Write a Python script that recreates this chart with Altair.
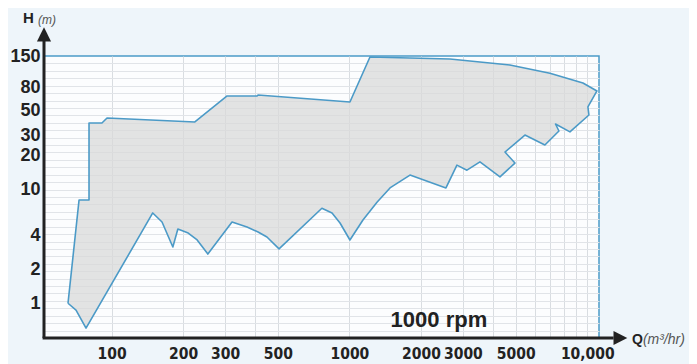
import altair as alt
import pandas as pd

# Outline of the operating envelope (Q in m3/hr, H in m), clockwise from the lower-left corner
q_outline = [65.6, 73.0, 80.4, 80.4, 91.1, 95.7, 224, 306, 409, 413, 1005, 1220, 2646, 4728, 6966, 9587, 10980,
             10060, 10160, 8453, 7350, 7600, 6634, 5468, 4507, 4964, 4294, 3538, 3120, 2831, 2546, 1797, 1481,
             1306, 1140, 1005, 913, 845, 766, 506, 450, 413, 371, 321, 254, 229, 210, 190, 181, 163, 149,
             78.1, 70.9, 65.6]
h_outline = [1.01, 8.15, 8.15, 38.7, 38.7, 42.8, 39.5, 66.8, 66.8, 68.2, 59.2, 147, 141, 125, 106, 87, 74,
             53.5, 45.5, 32.3, 37.9, 32.9, 24.8, 30.3, 21.5, 17.2, 13.0, 17.6, 14.9, 16.5, 10.4, 13.5, 10.4,
             7.8, 5.44, 3.63, 5.12, 6.27, 6.9, 3.03, 3.86, 4.27, 4.72, 5.22, 2.73, 3.63, 4.18, 4.53, 3.15, 5.22, 6.27,
             0.61, 0.88, 1.01]

x_label_values = [100, 200, 300, 500, 1000, 2000, 3000, 5000, 10000]
x_grid_values = [100, 200, 300, 400, 500, 1000, 2000, 3000, 4000, 5000, 6000, 7000, 8000, 9000, 10000]
y_label_values = [1, 2, 4, 10, 20, 30, 50, 80, 150]
y_stripe_values = [round(0.5 * 10 ** (k * 2.4771 / 38), 4) for k in range(1, 38)]

X_DOMAIN = [52, 11200]
Y_DOMAIN = [0.5, 150]

xs = alt.Scale(type="log", domain=X_DOMAIN, nice=False)
ys = alt.Scale(type="log", domain=Y_DOMAIN, nice=False)

df = pd.DataFrame({"Q": q_outline, "H": h_outline, "i": list(range(len(q_outline)))})
one = pd.DataFrame({"a": [0]})

GRID = "#d9dde1"
INK = "#222222"
BLUE = "#4b9ac7"
SANS = "Liberation Sans, Arial, sans-serif"
NARROW = "Liberation Sans Narrow, DejaVu Sans Condensed, Liberation Sans, sans-serif"


def px(v):
    return alt.X(datum=v, scale=xs, axis=None)


def py(v):
    return alt.Y(datum=v, scale=ys, axis=None)


grid_layer = alt.Chart(df).mark_line(opacity=0).encode(
    x=alt.X("Q:Q", scale=xs, axis=alt.Axis(values=x_grid_values, grid=True, labels=False, ticks=False,
                                           domain=False, title=None, orient="top", gridColor=GRID, gridWidth=1)),
    y=alt.Y("H:Q", scale=ys, axis=alt.Axis(values=y_stripe_values, grid=True, labels=False, ticks=False,
                                           domain=False, title=None, orient="right", gridColor="#e1e4e8", gridWidth=1)),
)

label_expr = ("datum.value == 10000 ? '10,000' : (indexof([100,200,300,500,1000,2000,3000,5000], datum.value) >= 0 "
              "? '' + datum.value : '')")

poly = alt.Chart(df).mark_line(fill="#d8d8d8", fillOpacity=0.72, stroke=BLUE, strokeWidth=1.6,
                               strokeJoin="round").encode(
    x=alt.X("Q:Q", scale=xs, axis=alt.Axis(values=x_label_values, labelExpr=label_expr, grid=False, ticks=False,
                                           domain=False, title=None, orient="bottom", labelFont=NARROW,
                                           labelFontWeight="bold", labelFontSize=15.5, labelColor=INK, labelPadding=8,
                                           labelFlush=False, labelOverlap=False)),
    y=alt.Y("H:Q", scale=ys, axis=alt.Axis(values=y_label_values, grid=False, ticks=False, domain=False, title=None,
                                           orient="left", labelFont=SANS, labelFontWeight="bold",
                                           labelFontSize=18, labelColor=INK, labelPadding=4, labelFlush=False,
                                           labelOverlap=False)),
    order="i:Q",
)

v_rule = alt.Chart(one).mark_rule(color=INK, strokeWidth=3).encode(x=px(52), y=py(0.5), y2=alt.datum(205))
h_rule = alt.Chart(one).mark_rule(color=INK, strokeWidth=3).encode(x=px(51.3), x2=alt.datum(12900), y=py(0.5))

up_arrow = alt.Chart(one).mark_point(shape="M0,-1L1,1L-1,1Z", size=200, filled=True, color=INK, opacity=1).encode(
    x=px(52), y=py(232))
right_arrow = alt.Chart(one).mark_point(shape="M-1,-1L1,0L-1,1Z", size=190, filled=True, color=INK,
                                        opacity=1).encode(x=px(13780), y=py(0.5))

rpm_text = alt.Chart(one).mark_text(text="1000 rpm", font=SANS, fontWeight="bold", fontSize=22,
                                    color=INK, align="center", baseline="alphabetic").encode(x=px(2378), y=py(0.6246))

h_text = alt.Chart(one).mark_text(text="H", font=SANS, fontWeight="bold", fontSize=15,
                                  color=INK, align="left", baseline="alphabetic").encode(x=px(42.4), y=py(292))
h_unit = alt.Chart(one).mark_text(text="(m)", font=SANS, fontStyle="italic", fontSize=12,
                                  color="#555555", align="left", baseline="alphabetic").encode(x=px(49.1), y=py(286))

q_text = alt.Chart(one).mark_text(text="Q", font=SANS, fontWeight="bold", fontSize=14,
                                  color=INK, align="left", baseline="alphabetic").encode(x=px(15400), y=py(0.443))
q_unit = alt.Chart(one).mark_text(text="(m³/hr)", font=SANS, fontStyle="italic", fontSize=14,
                                  color="#555555", align="left", baseline="alphabetic").encode(x=px(17140), y=py(0.443))

chart = alt.layer(
    grid_layer, poly, v_rule, h_rule, up_arrow, right_arrow, rpm_text, h_text, h_unit, q_text, q_unit
).resolve_axis(x="independent", y="independent").properties(
    width=555, height=282, autosize="none",
    padding={"left": 36, "top": 48, "right": 90, "bottom": 28},
    background="#eef5fa",
).configure_view(stroke=BLUE, strokeWidth=1.5, fill="#fcfdfe")

chart.save("out.html", embed_options={"renderer": "svg", "actions": False})
